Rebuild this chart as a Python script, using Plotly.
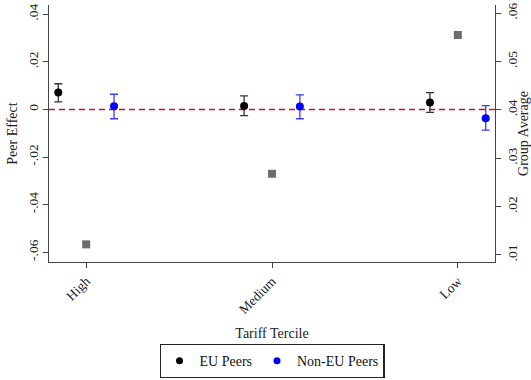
import plotly.graph_objects as go

categories = ["High", "Medium", "Low"]
cat_pos = [1, 2, 3]

eu_est = [0.0071, 0.0015, 0.0029]
eu_lo = [0.0032, -0.0026, -0.0012]
eu_hi = [0.0108, 0.0057, 0.0071]

noneu_est = [0.0013, 0.0012, -0.0037]
noneu_lo = [-0.0039, -0.0039, -0.0087]
noneu_hi = [0.0064, 0.0061, 0.0016]

group_avg = [0.0122, 0.0268, 0.0555]

left_ticks = [0.04, 0.02, 0.0, -0.02, -0.04, -0.06]
left_ticktext = [".04", ".02", "0", "-.02", "-.04", "-.06"]
right_ticks = [0.01, 0.02, 0.03, 0.04, 0.05, 0.06]
right_ticktext = [".01", ".02", ".03", ".04", ".05", ".06"]

off = 0.15
FONT = "Liberation Serif"

fig = go.Figure()

fig.add_trace(go.Scatter(
    x=[p - off for p in cat_pos], y=eu_est, mode="markers", name="EU Peers",
    showlegend=False, legendgroup="eu",
    marker=dict(color="black", size=8),
    error_y=dict(type="data", symmetric=False,
                 array=[h - e for h, e in zip(eu_hi, eu_est)],
                 arrayminus=[e - l for e, l in zip(eu_est, eu_lo)],
                 color="#333333", thickness=1.3, width=4),
))
fig.add_trace(go.Scatter(
    x=[p + off for p in cat_pos], y=noneu_est, mode="markers", name="Non-EU Peers",
    showlegend=False, legendgroup="noneu",
    marker=dict(color="#0000ff", size=8),
    error_y=dict(type="data", symmetric=False,
                 array=[h - e for h, e in zip(noneu_hi, noneu_est)],
                 arrayminus=[e - l for e, l in zip(noneu_est, noneu_lo)],
                 color="#3a3aff", thickness=1.3, width=4),
))
fig.add_trace(go.Scatter(
    x=cat_pos, y=group_avg, mode="markers", yaxis="y2", showlegend=False,
    marker=dict(color="#6e6e6e", symbol="square", size=8),
))
# legend entries
fig.add_trace(go.Scatter(x=[None], y=[None], mode="markers", name="EU Peers",
                         legendgroup="eu", marker=dict(color="black", size=7)))
fig.add_trace(go.Scatter(x=[None], y=[None], mode="markers", name="Non-EU Peers",
                         legendgroup="noneu", marker=dict(color="#0000ff", size=7)))

fig.add_shape(type="line", xref="paper", x0=0, x1=1, yref="y", y0=0, y1=0,
              line=dict(color="#d0103a", width=1.5, dash="6px,4px"), layer="below")

fig.update_layout(
    width=531, height=380,
    margin=dict(l=49, r=36, t=5, b=118, autoexpand=False),
    plot_bgcolor="white", paper_bgcolor="white",
    font=dict(family=FONT, size=13, color="#222"),
    xaxis=dict(range=[0.8, 3.2], tickvals=cat_pos, ticktext=categories,
               tickangle=-45, ticks="outside", ticklen=5, tickcolor="#444",
               showline=True, linecolor="#444", linewidth=1.2, showgrid=False,
               zeroline=False, automargin=False,
               title=dict(text="Tariff Tercile", font=dict(size=14), standoff=12),
               tickfont=dict(size=13.5)),
    yaxis=dict(range=[-0.0641, 0.0439], tickvals=left_ticks, ticktext=left_ticktext,
               tickangle=-90, ticks="outside", ticklen=5, tickcolor="#444",
               showline=True, linecolor="#444", linewidth=1.2, showgrid=False,
               zeroline=False, automargin=False,
               title=dict(text="Peer Effect", font=dict(size=14), standoff=4),
               tickfont=dict(size=13.5)),
    yaxis2=dict(range=[0.00855, 0.0617], tickvals=right_ticks, ticktext=right_ticktext,
                overlaying="y", side="right",
                tickangle=-90, ticks="outside", ticklen=5, tickcolor="#444",
                showline=True, linecolor="#444", linewidth=1.2, showgrid=False,
                zeroline=False, automargin=False,
                title=dict(text="Group Average", font=dict(size=14), standoff=4),
                tickfont=dict(size=13.5)),
    legend=dict(orientation="h", x=0.5, xanchor="center", y=-0.319, yanchor="top",
                bordercolor="#222", borderwidth=1.2, font=dict(size=14, color="#111"),
                itemsizing="trace", itemwidth=30, tracegroupgap=0),
)

fig.write_html("out.html")
